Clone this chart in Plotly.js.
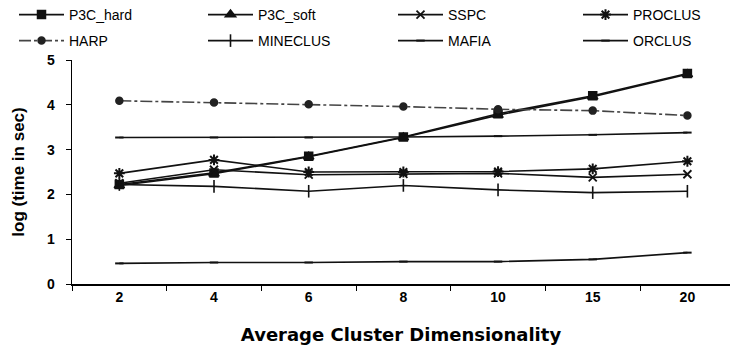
<!DOCTYPE html>
<html>
<head>
<meta charset="utf-8">
<script src="https://cdn.plot.ly/plotly-3.0.1.min.js"></script>
<style>html,body{margin:0;padding:0;background:#fff;}#chart{width:730px;height:347px;}</style>
</head>
<body>
<div id="chart"></div>
<script>
const categories = ['2', '4', '6', '8', '10', '15', '20'];
const p3cHard  = [2.22, 2.48, 2.85, 3.28, 3.80, 4.20, 4.70];
const p3cSoft  = [2.20, 2.46, 2.84, 3.27, 3.77, 4.18, 4.68];
const sspc     = [2.25, 2.55, 2.44, 2.46, 2.47, 2.38, 2.45];
const proclus  = [2.47, 2.77, 2.50, 2.50, 2.51, 2.57, 2.74];
const harp     = [4.09, 4.05, 4.01, 3.96, 3.90, 3.87, 3.76];
const mineclus = [2.22, 2.18, 2.07, 2.20, 2.10, 2.04, 2.07];
const mafia    = [0.46, 0.48, 0.48, 0.50, 0.50, 0.55, 0.70];
const orclus   = [3.27, 3.27, 3.27, 3.28, 3.30, 3.33, 3.38];
const yTicks   = [0, 1, 2, 3, 4, 5];

// legend slot for each series: [column, row]
const legendSlots = [[0, 0], [1, 0], [2, 0], [3, 0], [0, 1], [1, 1], [2, 1], [3, 1]];
const legendColX = [14, 203, 393, 578];
const legendRowY = [15, 41];

let idx = 0;
function tr(name, y, symbol, size, opts) {
  opts = opts || {};
  idx += 1;
  return {
    x: categories, y: y, name: name, type: 'scatter', mode: 'lines+markers',
    legend: idx === 1 ? 'legend' : 'legend' + idx,
    line: {color: opts.lc || '#111', width: opts.lw || 1.6, dash: opts.dash || 'solid'},
    marker: {symbol: symbol, size: size, color: opts.mc || '#111',
             line: {color: opts.mc || '#111', width: opts.mlw || 1.5}}
  };
}

const data = [
  tr('P3C_hard', p3cHard, 'square', 8),
  tr('P3C_soft', p3cSoft, 'triangle-up', 9),
  tr('SSPC', sspc, 'x-thin-open', 8, {mlw: 1.8}),
  tr('PROCLUS', proclus, 'asterisk-open', 9, {mlw: 2}),
  tr('HARP', harp, 'circle', 7, {dash: '12px,3px,3px,3px', lc: '#444', mc: '#222'}),
  tr('MINECLUS', mineclus, 'line-ns-open', 9, {mlw: 1.6}),
  tr('MAFIA', mafia, 'line-ew-open', 6, {mlw: 2}),
  tr('ORCLUS', orclus, 'line-ew-open', 6, {mlw: 2})
];

const legFont = {family: 'Liberation Sans, Arial, sans-serif', size: 14, color: '#000'};
function leg(slot) {
  return {
    orientation: 'h', xref: 'container', yref: 'container',
    x: legendColX[slot[0]] / 730, y: 1 - legendRowY[slot[1]] / 347,
    xanchor: 'left', yanchor: 'middle',
    itemwidth: 45, font: legFont, bgcolor: 'rgba(0,0,0,0)'
  };
}

const layout = {
  width: 730, height: 347,
  margin: {l: 72, r: 0, t: 60, b: 63, autoexpand: false},
  paper_bgcolor: '#fff', plot_bgcolor: '#fff',
  font: {family: 'Liberation Sans, Arial, sans-serif', color: '#000', size: 13},
  showlegend: true,
  xaxis: {
    type: 'category', categoryorder: 'array', categoryarray: categories,
    range: [-0.5, 6.45], tickson: 'boundaries',
    showline: true, linecolor: '#000', linewidth: 1.5,
    ticks: 'outside', ticklen: 5, tickcolor: '#000', tickwidth: 1,
    showgrid: false, zeroline: false,
    tickfont: {family: 'Liberation Sans, Arial, sans-serif', size: 14, color: '#000', weight: 'bold'},
    title: {text: 'Average Cluster Dimensionality', standoff: 24,
            font: {family: 'DejaVu Sans, sans-serif', size: 18, color: '#000', weight: 'bold'}}
  },
  yaxis: {
    range: [0, 5], tickvals: yTicks, ticktext: yTicks.map(String),
    showline: true, linecolor: '#000', linewidth: 1.5,
    ticks: 'outside', ticklen: 5, tickcolor: '#000', tickwidth: 1,
    ticklabelstandoff: 8,
    showgrid: false, zeroline: false,
    tickfont: {family: 'Liberation Sans, Arial, sans-serif', size: 14, color: '#000', weight: 'bold'},
    title: {text: 'log (time in sec)', standoff: 18,
            font: {family: 'Liberation Sans Narrow, Liberation Sans, sans-serif', size: 17, color: '#000', weight: 'bold'}}
  }
};
legendSlots.forEach(function (slot, i) {
  layout[i === 0 ? 'legend' : 'legend' + (i + 1)] = leg(slot);
});

Plotly.newPlot('chart', data, layout, {displayModeBar: false, staticPlot: true});
</script>
</body>
</html>
